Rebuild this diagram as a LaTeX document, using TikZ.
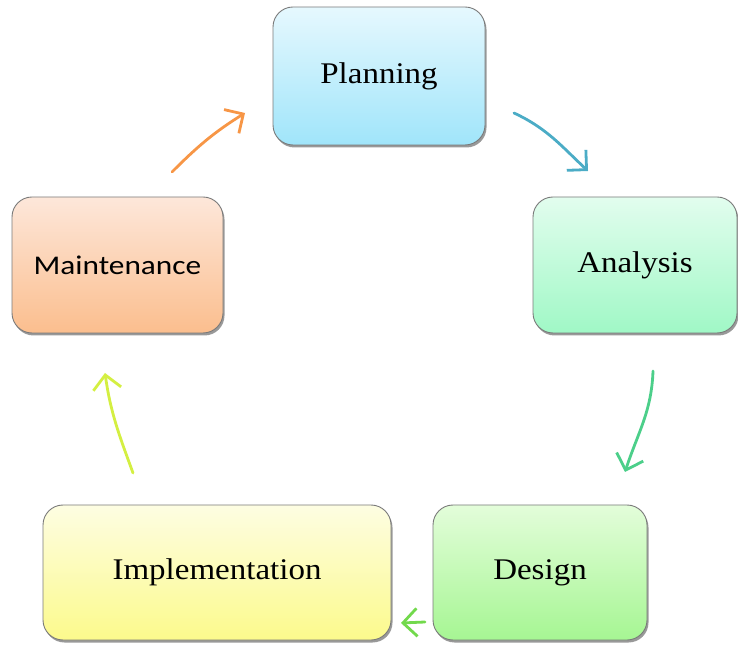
\documentclass[tikz,border=0pt]{standalone}
\usepackage{fontspec}
\setmainfont{Liberation Serif}
\newfontfamily\calib{Carlito}
\usetikzlibrary{arrows.meta,shadows,calc}
\definecolor{bordergray}{HTML}{7A7A7A}
\definecolor{plantop}{HTML}{E6F8FE}\definecolor{planbot}{HTML}{A0E5FA}
\definecolor{anatop}{HTML}{E2FDEE}\definecolor{anabot}{HTML}{A0F8C6}
\definecolor{maintop}{HTML}{FDE7DA}\definecolor{mainbot}{HTML}{FBBE8E}
\definecolor{destop}{HTML}{E3FDDA}\definecolor{desbot}{HTML}{A6F693}
\definecolor{imptop}{HTML}{FDFDE2}\definecolor{impbot}{HTML}{FCFA8C}
\definecolor{arblue}{HTML}{4BACC6}
\definecolor{argreen}{HTML}{4CCF8A}
\definecolor{arlgreen}{HTML}{72D94C}
\definecolor{aryg}{HTML}{D4EF42}
\definecolor{arorange}{HTML}{F79646}
\tikzset{
  phase/.style={draw=bordergray, line width=0.9pt, rounded corners=20pt,
    inner sep=0pt, align=center,
    drop shadow={shadow xshift=1.5pt, shadow yshift=-2.5pt, opacity=0.4, fill=black}},
  serifl/.style={font=\fontsize{30}{34}\selectfont},
  cyc/.style={line width=2.8pt, line cap=round,
    -{Straight Barb[length=14pt, width=28pt, line width=2.8pt]}}
}
\newcommand{\stx}[1]{\scalebox{1.1}[1]{#1}}
\begin{document}
\begin{tikzpicture}[x=1pt,y=1pt]
\useasboundingbox (0,0) rectangle (738,645);
\node[phase, serifl, top color=plantop, bottom color=planbot,
  minimum width=212pt, minimum height=138pt] (plan) at (379,569) {\stx{Planning}};
\node[phase, serifl, top color=anatop, bottom color=anabot,
  minimum width=204pt, minimum height=136pt] (ana) at (635,380) {\stx{Analysis}};
\node[phase, serifl, top color=destop, bottom color=desbot,
  minimum width=214pt, minimum height=135pt] (des) at (540,72.5) {\stx{Design}};
\node[phase, serifl, top color=imptop, bottom color=impbot,
  minimum width=348pt, minimum height=135pt] (imp) at (217,72.5) {\stx{Implementation}};
\node[phase, font=\calib\fontsize{27}{31}\selectfont, top color=maintop, bottom color=mainbot,
  minimum width=211pt, minimum height=136pt] (mai) at (117.5,380) {\scalebox{1.16}[1]{Maintenance}};
% connector end points
\coordinate (a1s) at (514,532);
\coordinate (a1e) at (588,474);
\coordinate (a2s) at (653,274);
\coordinate (a2e) at (625,173);
\coordinate (a3s) at (425,23);
\coordinate (a3e) at (401,22);
\coordinate (a4s) at (133,172);
\coordinate (a4e) at (105,272);
\coordinate (a5s) at (172,473);
\coordinate (a5e) at (245,532);
\draw[cyc, arblue] (a1s) to[out=-25, in=137] (a1e);
\draw[cyc, argreen] (a2s) to[out=-92, in=72] (a2e);
\draw[cyc, arlgreen] (a3s) -- (a3e);
\draw[cyc, aryg] (a4s) to[out=110, in=-82] (a4e);
\draw[cyc, arorange] (a5s) to[out=45, in=-148] (a5e);
\end{tikzpicture}
\end{document}
